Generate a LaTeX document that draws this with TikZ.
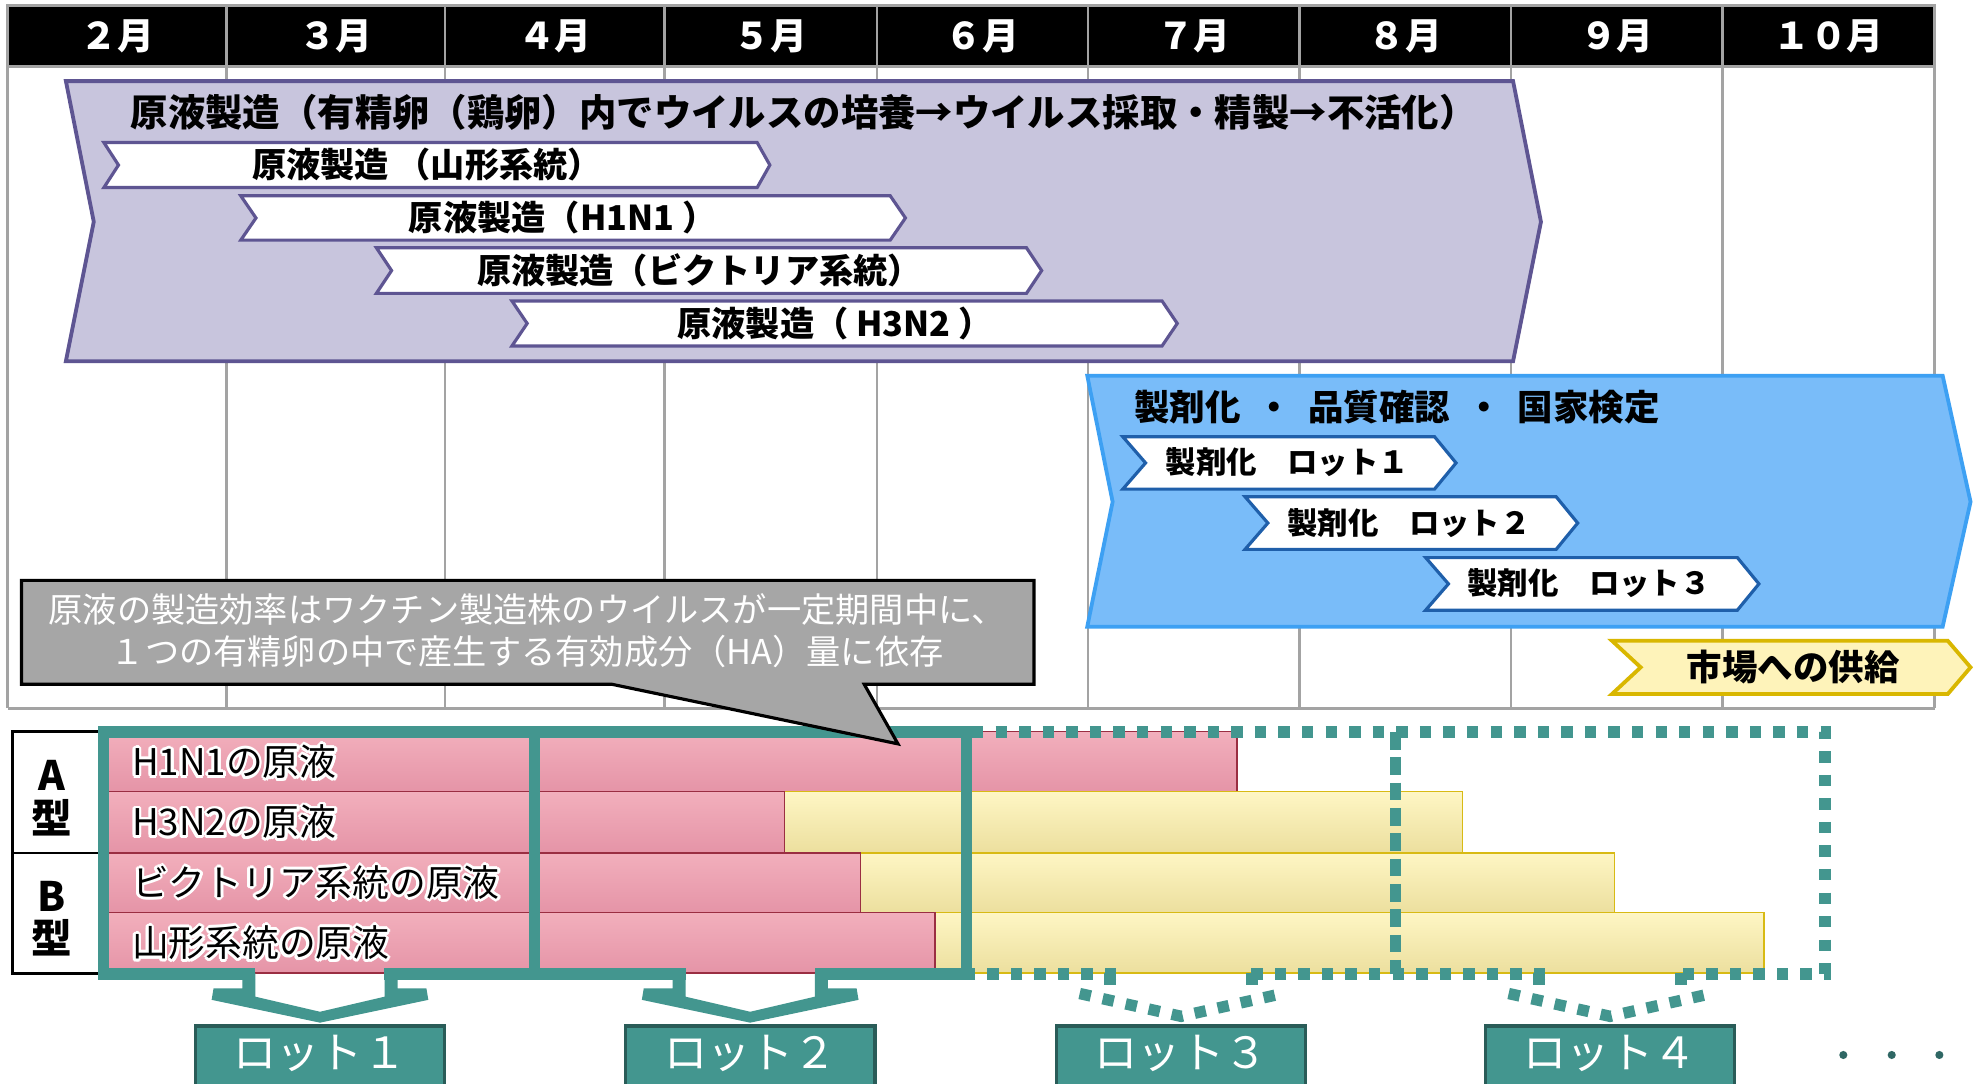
\documentclass[tikz,border=0pt]{standalone}
\usepackage{fontspec}
\setmainfont{Noto Sans CJK JP}
\usetikzlibrary{calc}
\definecolor{purpfill}{HTML}{C8C5DD}
\definecolor{purpline}{HTML}{5E5592}
\definecolor{bluefill}{HTML}{79BCF9}
\definecolor{blueline}{HTML}{3DA0F3}
\definecolor{bluedark}{HTML}{1F5FAA}
\definecolor{yelfill}{HTML}{FEF3BA}
\definecolor{yelline}{HTML}{D9B700}
\definecolor{tealc}{HTML}{43968F}
\definecolor{tealdark}{HTML}{2A5C58}
\definecolor{gridc}{HTML}{A3A3A3}
\definecolor{calloutc}{HTML}{A6A6A6}
\definecolor{pinktop}{HTML}{F2AFBC}
\definecolor{pinkbot}{HTML}{E594A7}
\definecolor{pinkline}{HTML}{9A2E42}
\definecolor{yeltop}{HTML}{FEF6C4}
\definecolor{yelbot}{HTML}{ECDF9E}
\definecolor{yelbar}{HTML}{D8BA14}
\definecolor{dotc}{HTML}{2F6764}
\newcommand\mychev[7]{% style, L, T, B, R, notch, tip
  \draw[#1] (#2,#3) -- (#5,#3) -- ({#5+#7},{(#3+#4)/2}) -- (#5,#4) -- (#2,#4) -- ({#2+#6},{(#3+#4)/2}) -- cycle;}
\newcommand\lotconn[2]{% center, style
  \fill[#2] ({#1-61.3},768) -- ({#1-61.3},780) -- ({#1-84},780) -- ({#1-85.5},789) -- (#1,807) -- ({#1+85.5},789) -- ({#1+84},780) -- ({#1+61.3},780) -- ({#1+61.3},768) -- ({#1+51},768) -- ({#1+51},786.5) -- (#1,798.4) -- ({#1-51},786.5) -- ({#1-51},768) -- cycle;}
\newcommand\lotdots[1]{%
  \draw[tealdot] ({#1-56},768) -- ({#1-56},781);
  \draw[tealdot] ({#1+56},768) -- ({#1+56},781);
  \draw[tealdot] ({#1-80},784) -- (#1,802) -- ({#1+80},784);}
\newcommand\glowlabel[4]{% name, x, y, text
  \foreach \a in {0,30,...,330}{\node[rowlbl,text=white] (#1g\a) at ($(#2,#3)+(\a:2.2)$) {#4};}
  \foreach \a in {0,45,...,315}{\node[rowlbl,text=white] (#1h\a) at ($(#2,#3)+(\a:1.2)$) {#4};}
  \node[rowlbl] (#1) at (#2,#3) {#4};}
\begin{document}
\begin{tikzpicture}[x=1pt,y=-1pt,
  gridline/.style={draw=gridc,line width=2},
  month/.style={text=white,font=\fontsize{29}{33}\selectfont\bfseries,inner sep=0},
  bigtitle/.style={font=\fontsize{29.5}{33}\selectfont\bfseries,inner sep=0,anchor=west},
  subtxt/.style={font=\fontsize{27}{31}\selectfont\bfseries,inner sep=0},
  bluetxt/.style={font=\fontsize{24}{28}\selectfont\bfseries,inner sep=0},
  purpbig/.style={fill=purpfill,draw=purpline,line width=3},
  purpsub/.style={fill=white,draw=purpline,line width=2.5},
  bluebig/.style={fill=bluefill,draw=blueline,line width=3},
  bluesub/.style={fill=white,draw=bluedark,line width=2.5},
  yelarrow/.style={fill=yelfill,draw=yelline,line width=3},
  pinkbar/.style={top color=pinktop,bottom color=pinkbot,draw=pinkline,line width=1.2},
  yelbarst/.style={top color=yeltop,bottom color=yelbot,draw=yelbar,line width=1.2},
  rowlbl/.style={font=\fontsize{29}{33}\selectfont,inner sep=0,anchor=west},
  typelbl/.style={font=\fontsize{32}{36}\selectfont\bfseries,inner sep=0},
  tealframe/.style={draw=tealc,line width=9},
  tealdot/.style={draw=tealc,line width=9,dash pattern=on 9 off 9.6},
  tealdash/.style={draw=tealc,line width=9,dash pattern=on 14 off 6},
  lotbox/.style={fill=tealc,draw=tealdark,line width=2.5},
  lottext/.style={text=white,font=\fontsize{34}{38}\selectfont,inner sep=0},
  callout/.style={fill=calloutc,draw=black,line width=2.5,line join=miter},
  callouttext/.style={text=white,font=\fontsize{27}{33}\selectfont,inner sep=0,align=center}]
\useasboundingbox (0,0) rectangle (1568,855);
\fill[white] (0,0) rectangle (1568,855);
% ---------- grid ----------
\foreach \xx in {6,178.7,351.3,524.4,692,858.7,1025.6,1192.4,1359.3,1526.7}{
  \draw[gridline] (\xx,52) -- (\xx,559);}
\draw[gridline] (6,559) -- (1526.7,559);
\fill[black] (6,5) rectangle (1526.7,52);
\draw[gridline] (6,4.5) rectangle (1526.7,52.5);
\foreach \xx in {178.7,351.3,524.4,692,858.7,1025.6,1192.4,1359.3}{
  \draw[gridline] (\xx,5) -- (\xx,52);}
\node[month] (m2) at (92.4,28.5) {２月};
\node[month] (m3) at (265,28.5) {３月};
\node[month] (m4) at (437.9,28.5) {４月};
\node[month] (m5) at (608.2,28.5) {５月};
\node[month] (m6) at (775.4,28.5) {６月};
\node[month] (m7) at (942.2,28.5) {７月};
\node[month] (m8) at (1109,28.5) {８月};
\node[month] (m9) at (1275.9,28.5) {９月};
\node[month] (m10) at (1443,28.5) {１０月};
% ---------- purple ----------
\draw[purpbig] (52,64) -- (1194,64) -- (1216,175) -- (1194,285) -- (52,285) -- (74,175) -- cycle;
\node[bigtitle] (ptitle) at (103,88.5) {原液製造（有精卵（鶏卵）内でウイルスの培養→ウイルス採取・精製→不活化）};
\mychev{purpsub}{82}{112.5}{148}{597.5}{11.5}{10}
\mychev{purpsub}{190}{154.5}{189.5}{702.5}{12}{12}
\mychev{purpsub}{297}{195.5}{231.5}{810}{12}{12}
\mychev{purpsub}{404}{237.5}{273}{917}{12}{12}
\node[subtxt] (p1) at (337,130) {原液製造 （山形系統）};
\node[subtxt] (p2) at (444,172) {原液製造（H1N1 ）};
\node[subtxt] (p3) at (552,213.5) {原液製造（ビクトリア系統）};
\node[subtxt] (p4) at (659,255) {原液製造（ H3N2 ）};
% ---------- blue ----------
\draw[bluebig] (858,296.5) -- (1533,296.5) -- (1555,396) -- (1533,494.5) -- (858,494.5) -- (878,396) -- cycle;
\node[bigtitle,font=\fontsize{28}{32}\selectfont\bfseries] (btitle) at (895,321.5) {製剤化\hspace{0.45em}・\hspace{0.45em}品質確認\hspace{0.45em}・\hspace{0.45em}国家検定};
\mychev{bluesub}{886}{344.6}{386}{1132}{18}{17}
\mychev{bluesub}{982.5}{392}{433.5}{1228}{18}{17}
\mychev{bluesub}{1125}{440}{481.5}{1371}{18}{17}
\node[bluetxt] (b1) at (1016,365) {製剤化　ロット１};
\node[bluetxt] (b2) at (1112,412.5) {製剤化　ロット２};
\node[bluetxt] (b3) at (1254,460.5) {製剤化　ロット３};
% ---------- yellow ----------
\draw[yelarrow] (1272,505.6) -- (1537,505.6) -- (1555,526.6) -- (1537,547.7) -- (1272,547.7) -- (1294.7,526.6) -- cycle;
\node[font=\fontsize{28}{32}\selectfont\bfseries,inner sep=0] (market) at (1415,526.5) {市場への供給};
% ---------- table ----------
\draw[black,line width=2] (10,577.4) rectangle (80,768);
\draw[black,line width=2] (10,673) -- (80,673);
\node[typelbl] (ta1) at (41,612) {A};
\node[typelbl] (ta2) at (41,645) {型};
\node[typelbl] (tb1) at (41,707) {B};
\node[typelbl] (tb2) at (41,740) {型};
\draw[pinkbar] (80,577.4) rectangle (976,624.7);
\draw[yelbarst] (619,624.7) rectangle (1154,673);
\draw[pinkbar] (80,624.7) rectangle (619,673);
\draw[yelbarst] (679,673) rectangle (1274,720.2);
\draw[pinkbar] (80,673) rectangle (679,720.2);
\draw[yelbarst] (738,720.2) rectangle (1392,768);
\draw[pinkbar] (80,720.2) rectangle (738,768);
\glowlabel{r1}{104}{601}{H1N1の原液}
\glowlabel{r2}{104}{648.5}{H3N2の原液}
\glowlabel{r3}{104}{696.5}{ビクトリア系統の原液}
\glowlabel{r4}{104}{744}{山形系統の原液}
% ---------- frames ----------
\draw[tealdot] (767,577.5) -- (1440,577.5) -- (1440,768.5) -- (1321.5,768.5);
\draw[tealdot] (1219.5,768.5) -- (983,768.5);
\draw[tealdot] (881,768.5) -- (767,768.5);
\draw[tealdash] (1101,577.5) -- (1101,768.5);
\draw[tealframe,line join=miter] (201.5,768.5) -- (81.5,768.5) -- (81.5,577.5) -- (762.5,577.5) -- (762.5,768.5) -- (643,768.5);
\draw[tealframe] (303,768.5) -- (541,768.5);
\draw[tealframe] (421.7,573) -- (421.7,773);
\lotconn{252.5}{tealc}
\lotconn{592}{tealc}
\lotdots{932}
\lotdots{1270.5}
% ---------- lots ----------
\draw[lotbox] (154,809.6) rectangle (351,870);
\draw[lotbox] (493.5,809.6) rectangle (690.5,870);
\draw[lotbox] (833.5,809.6) rectangle (1030.5,870);
\draw[lotbox] (1172,809.6) rectangle (1369,870);
\node[lottext] (lot1) at (252.5,831) {ロット１};
\node[lottext] (lot2) at (592,831) {ロット２};
\node[lottext] (lot3) at (932,831) {ロット３};
\node[lottext] (lot4) at (1270.5,831) {ロット４};
\fill[dotc] (1454.6,832.5) circle (3.2) (1492.8,832.5) circle (3.2) (1530.4,832.5) circle (3.2);
% ---------- callout ----------
\draw[callout] (17,458) -- (816,458) -- (816,540) -- (682,540) -- (708.6,587) -- (483,540) -- (17,540) -- cycle;
\node[callouttext] (note) at (416,497.5) {原液の製造効率はワクチン製造株のウイルスが一定期間中に、\\１つの有精卵の中で産生する有効成分（HA）量に依存};
\end{tikzpicture}
\end{document}
